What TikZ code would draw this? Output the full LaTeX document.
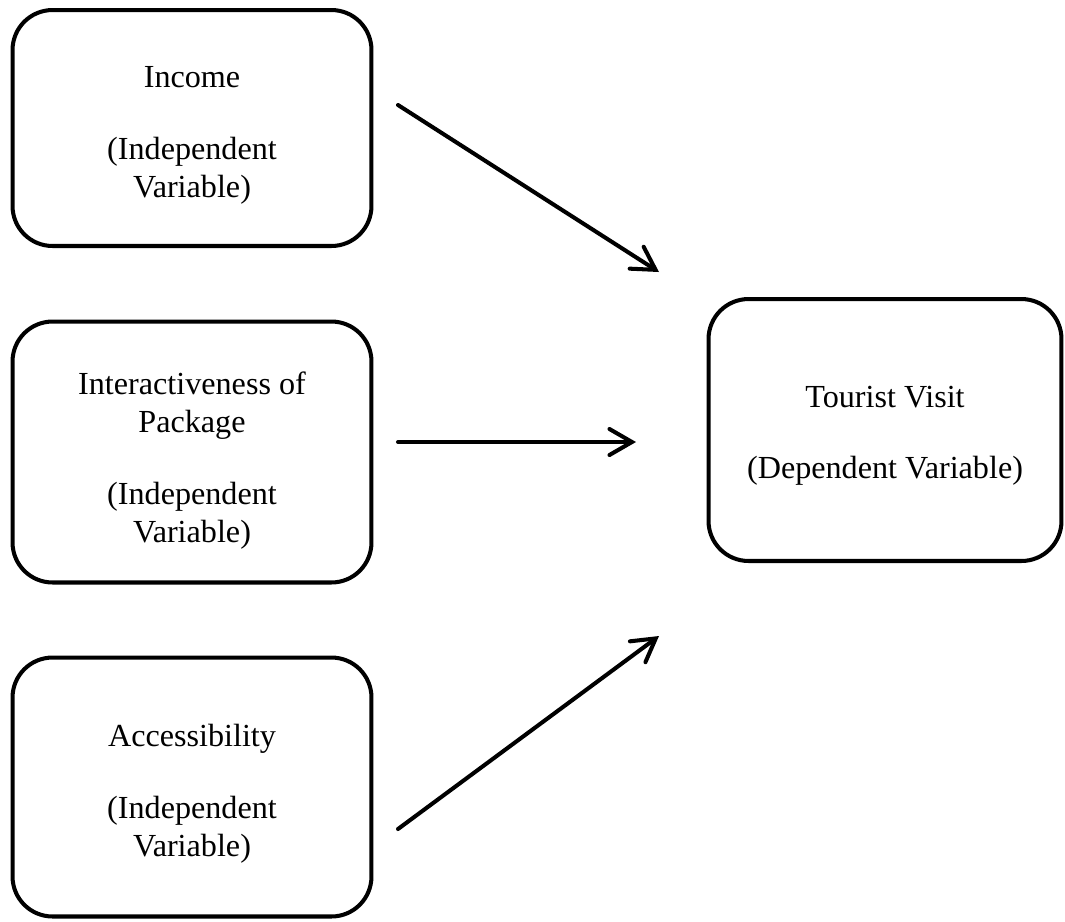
\documentclass[tikz,border=0pt]{standalone}
\usepackage{fontspec}
\setmainfont{Liberation Serif}
\usetikzlibrary{arrows.meta, positioning}
% text block, set a little lower than the centre of its box
\newcommand{\lowtxt}[2][4pt]{\raisebox{-#1}[\height][\depth]{\begin{tabular}{@{}c@{}}#2\end{tabular}}}
\tikzset{
  every picture/.style={line width=2.3pt},
  varbox/.style={draw=black, rounded corners=0.8cm, inner sep=0pt,
    minimum width=7.18cm, font=\fontsize{18.3}{21.6}\selectfont},
  link/.style={-{Straight Barb[length=4.5mm, width=5.2mm, line cap=round]}, line width=2.3pt, line cap=round},
}

\begin{document}
\begin{tikzpicture}[x=0.02cm, y=-0.02cm]
  \useasboundingbox (0,0) rectangle (1065,921);
  % independent variables
  \node[varbox, minimum height=4.72cm] (income) at (192,128) {\lowtxt{Income\\[19pt](Independent\\Variable)}};
  \node[varbox, minimum height=5.22cm] (pack) at (192,452) {\lowtxt[5pt]{Interactiveness of\\Package\\[19pt](Independent\\Variable)}};
  \node[varbox, minimum height=5.18cm] (access) at (192,787) {\lowtxt{Accessibility\\[19pt](Independent\\Variable)}};
  % dependent variable
  \node[varbox, minimum width=7.06cm, minimum height=5.24cm] (visit) at (885,430) {\lowtxt[3pt]{Tourist Visit\\[19pt](Dependent Variable)}};
  % arrows
  \coordinate (a1) at (398,105);
  \coordinate (b1) at (659,272);
  \coordinate (a2) at (398,442);
  \coordinate (b2) at (636,442);
  \coordinate (a3) at (398,829);
  \coordinate (b3) at (659,636);
  \draw[link] (a1) -- (b1);
  \draw[link] (a2) -- (b2);
  \draw[link] (a3) -- (b3);
\end{tikzpicture}
\end{document}
